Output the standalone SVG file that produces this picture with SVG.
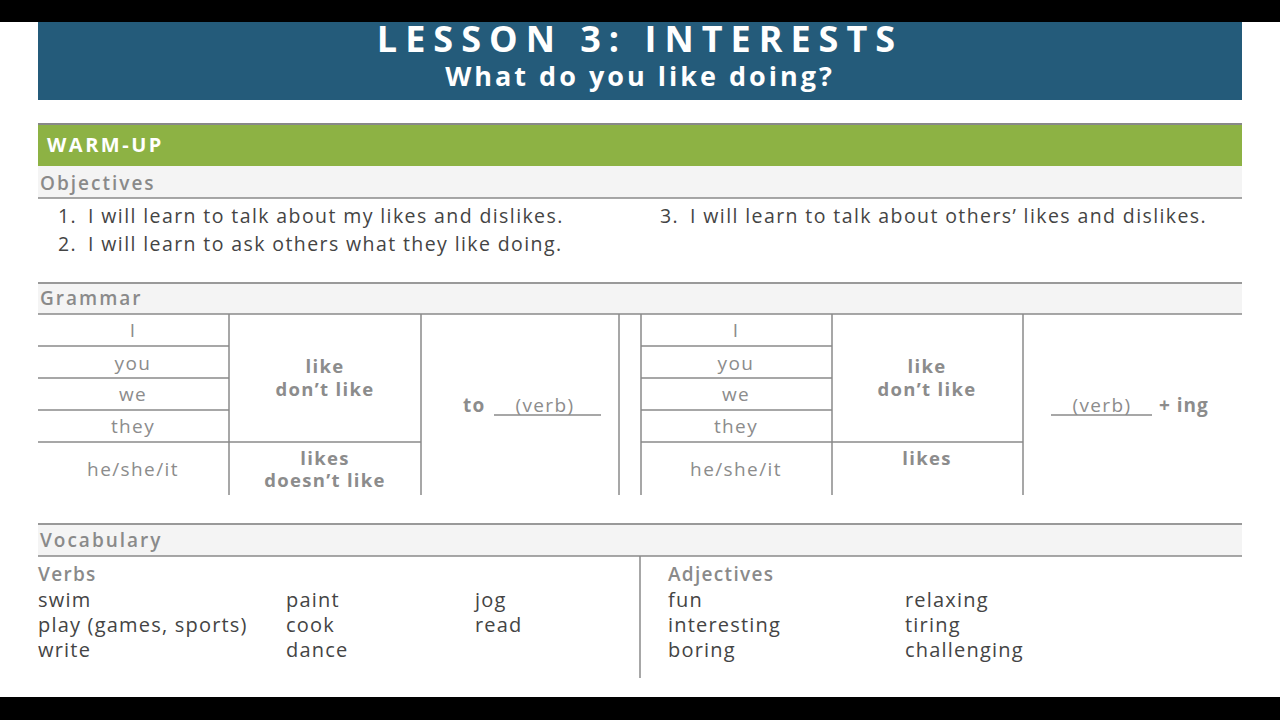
<svg xmlns="http://www.w3.org/2000/svg" width="1280" height="720" viewBox="0 0 1280 720">
<style>
text{font-family:"Open Sans","Noto Sans",sans-serif}
.g{fill:#8c8c8c}
.b{font-weight:bold}
.hd{fill:#8a8a8a;font-size:19px;font-weight:600;letter-spacing:2px}
.t{fill:#8c8c8c;font-size:19px;text-anchor:middle;letter-spacing:1.4px}
.tb{fill:#8c8c8c;font-size:18.5px;text-anchor:middle;font-weight:bold;letter-spacing:1.3px}
.ob{fill:#444;font-size:19.5px;letter-spacing:1.4px}
.v{fill:#444;font-size:20px;letter-spacing:1.2px}
.vh{fill:#8a8a8a;font-size:19px;font-weight:600;letter-spacing:1.3px}
.ln{stroke:#8a8a8a;stroke-width:1.5;fill:none}
</style>
<rect width="1280" height="720" fill="#fff"/>
<rect width="1280" height="22" fill="#000"/>
<rect y="697" width="1280" height="23" fill="#000"/>
<g id="header">
<rect x="38" y="22" width="1204" height="78" fill="#245b7a"/>
<text x="640" y="52" fill="#fff" font-size="36" font-weight="bold" text-anchor="middle" letter-spacing="8">LESSON 3: INTERESTS</text>
<text x="640" y="86" fill="#fff" font-size="27" font-weight="bold" text-anchor="middle" letter-spacing="3">What do you like doing?</text>
</g>
<g id="warmup">
<rect x="38" y="124" width="1204" height="42" fill="#8db244"/>
<line x1="38" y1="124" x2="1242" y2="124" stroke="#888" stroke-width="2"/>
<text x="47" y="152" fill="#fff" font-size="20" font-weight="bold" letter-spacing="2.5">WARM-UP</text>
</g>
<g id="objectives">
<rect x="38" y="166" width="1204" height="32" fill="#f4f4f4"/>
<line x1="38" y1="198" x2="1242" y2="198" class="ln"/>
<text x="40" y="190" class="hd">Objectives</text>
<text x="58" y="223" class="ob">1.</text><text x="88" y="223" class="ob">I will learn to talk about my likes and dislikes.</text>
<text x="58" y="251" class="ob">2.</text><text x="88" y="251" class="ob">I will learn to ask others what they like doing.</text>
<text x="660" y="223" class="ob">3.</text><text x="690" y="223" class="ob">I will learn to talk about others’ likes and dislikes.</text>
</g>
<g id="grammar">
<rect x="38" y="283" width="1204" height="31" fill="#f4f4f4"/>
<line x1="38" y1="283" x2="1242" y2="283" stroke="#999" stroke-width="2"/>
<line x1="38" y1="314" x2="1242" y2="314" class="ln"/>
<text x="40" y="305" class="hd">Grammar</text>
<path class="ln" d="M38 346H229M38 378H229M38 410H229M38 442H421M641 346H832M641 378H832M641 410H832M641 442H1023M229 314V495M421 314V495M619 314V495M641 314V495M832 314V495M1023 314V495"/>
<text x="133" y="337" class="t">I</text>
<text x="133" y="370" class="t">you</text>
<text x="133" y="401" class="t">we</text>
<text x="133" y="433" class="t">they</text>
<text x="133" y="476" class="t">he/she/it</text>
<text x="325" y="373" class="tb">like</text>
<text x="325" y="396" class="tb">don’t like</text>
<text x="325" y="465" class="tb">likes</text>
<text x="325" y="487" class="tb">doesn’t like</text>
<text x="463" y="412" class="g b" font-size="19" letter-spacing="1.3">to</text>
<text x="545" y="412" class="t">(verb)</text>
<line x1="494" y1="415" x2="601" y2="415" class="ln"/>
<text x="736" y="337" class="t">I</text>
<text x="736" y="370" class="t">you</text>
<text x="736" y="401" class="t">we</text>
<text x="736" y="433" class="t">they</text>
<text x="736" y="476" class="t">he/she/it</text>
<text x="927" y="373" class="tb">like</text>
<text x="927" y="396" class="tb">don’t like</text>
<text x="927" y="465" class="tb">likes</text>
<text x="1102" y="412" class="t">(verb)</text>
<line x1="1051" y1="415" x2="1152" y2="415" class="ln"/>
<text x="1159" y="412" class="g b" font-size="19" letter-spacing="1">+ ing</text>
</g>
<g id="vocabulary">
<rect x="38" y="524" width="1204" height="32" fill="#f4f4f4"/>
<line x1="38" y1="524" x2="1242" y2="524" stroke="#999" stroke-width="2"/>
<line x1="38" y1="556" x2="1242" y2="556" class="ln"/>
<line x1="640" y1="556" x2="640" y2="678" class="ln"/>
<text x="40" y="547" class="hd">Vocabulary</text>
<text x="38" y="581" class="vh">Verbs</text>
<text x="38" y="607" class="v">swim</text>
<text x="38" y="632" class="v">play (games, sports)</text>
<text x="38" y="657" class="v">write</text>
<text x="286" y="607" class="v">paint</text>
<text x="286" y="632" class="v">cook</text>
<text x="286" y="657" class="v">dance</text>
<text x="475" y="607" class="v">jog</text>
<text x="475" y="632" class="v">read</text>
<text x="668" y="581" class="vh">Adjectives</text>
<text x="668" y="607" class="v">fun</text>
<text x="668" y="632" class="v">interesting</text>
<text x="668" y="657" class="v">boring</text>
<text x="905" y="607" class="v">relaxing</text>
<text x="905" y="632" class="v">tiring</text>
<text x="905" y="657" class="v">challenging</text>
</g>
</svg>
